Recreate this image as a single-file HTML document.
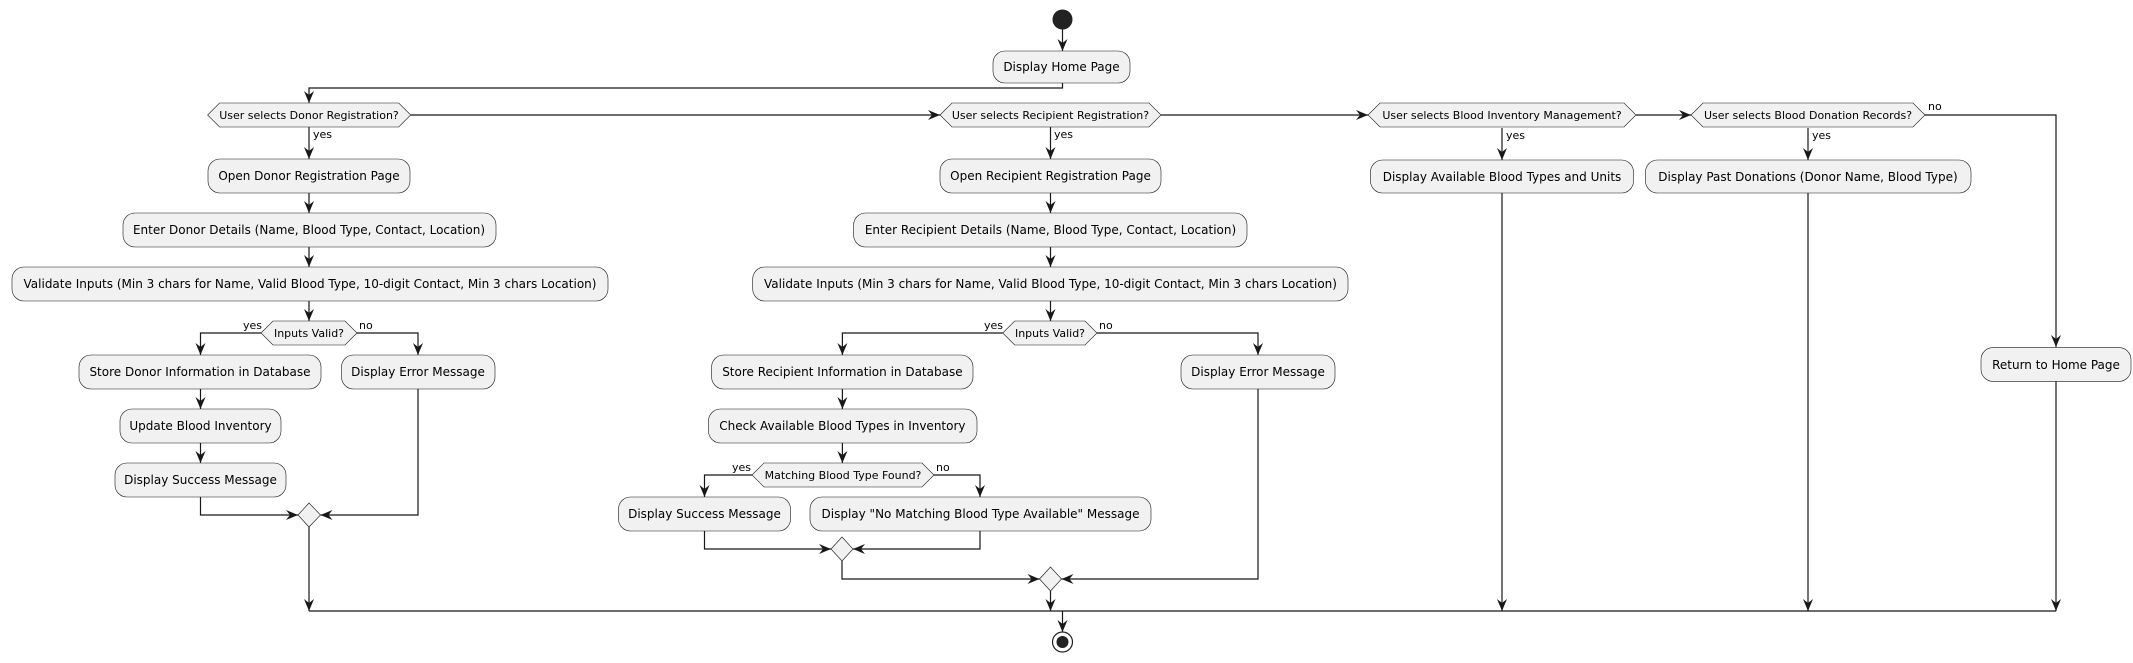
<!DOCTYPE html>
<html><head><meta charset="utf-8"><style>
html,body{margin:0;padding:0;background:#fff}
svg{display:block}
text{font-family:"DejaVu Sans","Liberation Sans",sans-serif;fill:#000}
.b{fill:#F1F1F1;stroke:#181818;stroke-width:0.6}
.t{font-size:12px;text-anchor:middle}
.d{font-size:11px;text-anchor:middle}
.l{font-size:11px}
.ln{fill:none;stroke:#181818;stroke-width:1.2}
</style></head><body>
<svg width="2133" height="663" viewBox="0 0 2133 663" xmlns="http://www.w3.org/2000/svg">
<defs><marker id="a" markerUnits="userSpaceOnUse" markerWidth="14" markerHeight="12" refX="12" refY="5" orient="auto"><path d="M0,0 L12,5 L0,10 L4,5 Z" fill="#181818"/></marker></defs>
<circle cx="1062.5" cy="19.5" r="10" fill="#222"/>
<g class="ln" marker-end="url(#a)">
<path d="M1062.5,29.5V51"/>
<path d="M1062.5,83V88H309V103"/>
<path d="M410.7,115H940"/>
<path d="M1161,115H1368"/>
<path d="M1636,115H1691"/>
<path d="M1925,115H2056V347"/>
<path d="M2056,381V611"/>
<path d="M309,127V159"/>
<path d="M309,193V213"/>
<path d="M309,247V267"/>
<path d="M309,301V321"/>
<path d="M261,333H200.5V355"/>
<path d="M357,333H418V355"/>
<path d="M200.5,389V409"/>
<path d="M200.5,443V463"/>
<path d="M200.5,497V515H298"/>
<path d="M418,389V515H320.5"/>
<path d="M309,527V611"/>
<path d="M1050.5,127V159"/>
<path d="M1050.5,193V213"/>
<path d="M1050.5,247V267"/>
<path d="M1050.5,301V321"/>
<path d="M1002.7,333H842.4V355"/>
<path d="M1097,333H1258V355"/>
<path d="M842.4,389V409"/>
<path d="M842.4,443V463"/>
<path d="M752,475H704.5V497"/>
<path d="M934,475H980V497"/>
<path d="M704.5,531V549H831"/>
<path d="M980,531V549H853"/>
<path d="M842,561V579H1039.5"/>
<path d="M1258,389V579H1061.5"/>
<path d="M1050.5,591V611"/>
<path d="M1502,128V160"/>
<path d="M1502,193V611"/>
<path d="M1808,128V160"/>
<path d="M1808,193V611"/>
<path d="M1062.5,611V632"/>
</g>
<path class="ln" d="M309,611H2056"/>
<circle cx="1062.5" cy="642" r="10" fill="#fff" stroke="#222" stroke-width="1.2"/>
<circle cx="1062.5" cy="642" r="6" fill="#222"/>

<rect class="b" x="993" y="51" width="137" height="32" rx="12"/><text class="t" x="1061.5" y="71">Display Home Page</text>

<polygon class="b" points="207.6,115 219.6,103 398.7,103 410.7,115 398.7,127 219.6,127"/><text class="d" x="309" y="119">User selects Donor Registration?</text>
<polygon class="b" points="940,115 952,103 1149,103 1161,115 1149,127 952,127"/><text class="d" x="1050.5" y="119">User selects Recipient Registration?</text>
<polygon class="b" points="1368,115 1380,103 1624,103 1636,115 1624,127 1380,127"/><text class="d" x="1502" y="119">User selects Blood Inventory Management?</text>
<polygon class="b" points="1691,115 1703,103 1913,103 1925,115 1913,127 1703,127"/><text class="d" x="1808" y="119">User selects Blood Donation Records?</text>
<text class="l" x="1928" y="110">no</text>
<text class="l" x="313" y="138">yes</text>
<text class="l" x="1054" y="138">yes</text>
<text class="l" x="1506" y="139">yes</text>
<text class="l" x="1812" y="139">yes</text>

<rect class="b" x="208" y="159" width="202" height="34" rx="12"/><text class="t" x="309" y="180">Open Donor Registration Page</text>
<rect class="b" x="123" y="213" width="373" height="34" rx="12"/><text class="t" x="309" y="234">Enter Donor Details (Name, Blood Type, Contact, Location)</text>
<rect class="b" x="12" y="267" width="596" height="34" rx="12"/><text class="t" x="310" y="288">Validate Inputs (Min 3 chars for Name, Valid Blood Type, 10-digit Contact, Min 3 chars Location)</text>
<polygon class="b" points="261,333 273,321 345,321 357,333 345,345 273,345"/><text class="d" x="309" y="337">Inputs Valid?</text>
<text class="l" x="243" y="329">yes</text><text class="l" x="359" y="329">no</text>
<rect class="b" x="79" y="355" width="242" height="34" rx="12"/><text class="t" x="200" y="376">Store Donor Information in Database</text>
<rect class="b" x="341.5" y="355" width="153.5" height="34" rx="12"/><text class="t" x="418" y="376">Display Error Message</text>
<rect class="b" x="120" y="409" width="161" height="34" rx="12"/><text class="t" x="200.5" y="430">Update Blood Inventory</text>
<rect class="b" x="115" y="463" width="171" height="34" rx="12"/><text class="t" x="200.5" y="484">Display Success Message</text>
<polygon class="b" points="298,515 309,503 320.5,515 309,527"/>

<rect class="b" x="940" y="159" width="221" height="34" rx="12"/><text class="t" x="1050.5" y="180">Open Recipient Registration Page</text>
<rect class="b" x="853.6" y="213" width="393.4" height="34" rx="12"/><text class="t" x="1050.5" y="234">Enter Recipient Details (Name, Blood Type, Contact, Location)</text>
<rect class="b" x="752.7" y="267" width="595.3" height="34" rx="12"/><text class="t" x="1050.5" y="288">Validate Inputs (Min 3 chars for Name, Valid Blood Type, 10-digit Contact, Min 3 chars Location)</text>
<polygon class="b" points="1002.7,333 1014.7,321 1085,321 1097,333 1085,345 1014.7,345"/><text class="d" x="1050" y="337">Inputs Valid?</text>
<text class="l" x="984" y="329">yes</text><text class="l" x="1099" y="329">no</text>
<rect class="b" x="711.6" y="355" width="261.4" height="34" rx="12"/><text class="t" x="842.4" y="376">Store Recipient Information in Database</text>
<rect class="b" x="1181" y="355" width="154" height="34" rx="12"/><text class="t" x="1258" y="376">Display Error Message</text>
<rect class="b" x="708.5" y="409" width="268.5" height="34" rx="12"/><text class="t" x="842.4" y="430">Check Available Blood Types in Inventory</text>
<polygon class="b" points="752,475 764,463 922,463 934,475 922,487 764,487"/><text class="d" x="843" y="479">Matching Blood Type Found?</text>
<text class="l" x="732" y="471">yes</text><text class="l" x="936" y="471">no</text>
<rect class="b" x="618.5" y="497" width="172" height="34" rx="12"/><text class="t" x="704.5" y="518">Display Success Message</text>
<rect class="b" x="810" y="497" width="341" height="34" rx="12"/><text class="t" x="980.5" y="518">Display "No Matching Blood Type Available" Message</text>
<polygon class="b" points="831,549 842,537 853,549 842,561"/>
<polygon class="b" points="1039.5,579 1050.5,567 1061.5,579 1050.5,591"/>

<rect class="b" x="1370.5" y="160" width="263" height="33" rx="12"/><text class="t" x="1502" y="181">Display Available Blood Types and Units</text>
<rect class="b" x="1645.5" y="160" width="325.5" height="33" rx="12"/><text class="t" x="1808" y="181">Display Past Donations (Donor Name, Blood Type)</text>
<rect class="b" x="1981" y="347.6" width="150" height="33.8" rx="12"/><text class="t" x="2056" y="369">Return to Home Page</text>
</svg>
</body></html>
